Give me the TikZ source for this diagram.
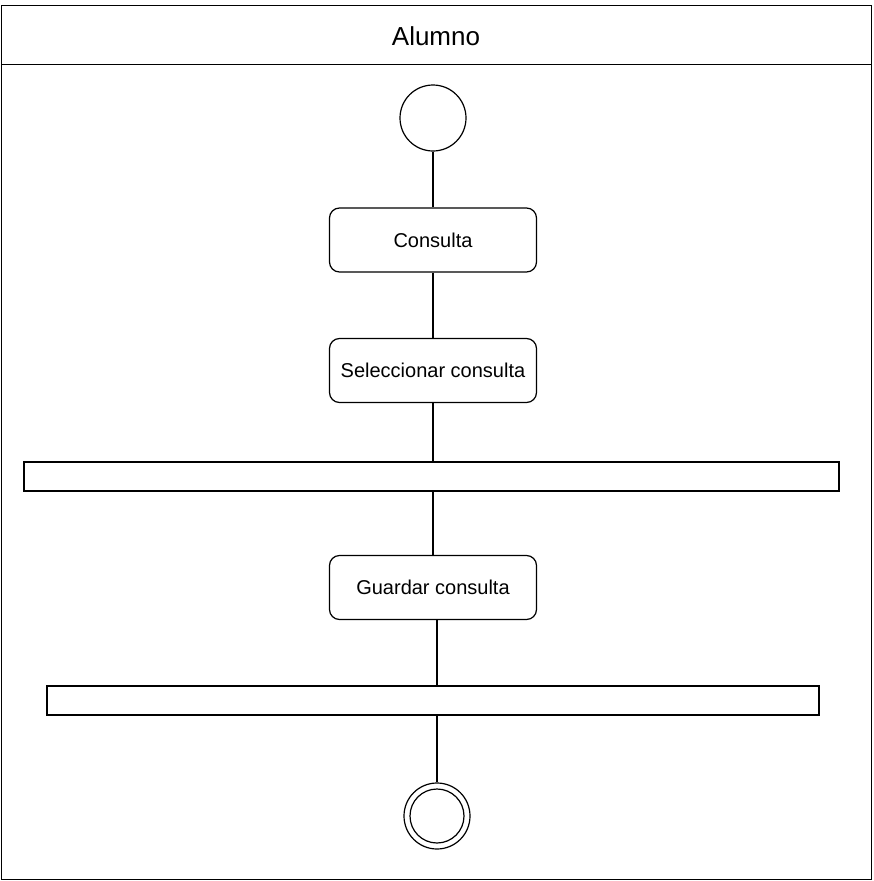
\documentclass[tikz,border=0pt]{standalone}
\usepackage{fontspec}
\setmainfont{Liberation Sans}
\begin{document}
\begin{tikzpicture}[x=1pt,y=-1pt,
  line width=1.2pt,
  lane/.style={draw, inner sep=0pt, anchor=north west},
  action/.style={draw, rounded corners=10pt, minimum width=207pt, minimum height=64pt,
    inner sep=0pt, font=\fontsize{20}{24}\selectfont},
  forkbar/.style={draw, minimum height=29pt, inner sep=0pt},
  startnode/.style={draw, circle, minimum size=66pt, inner sep=0pt},
  endnode/.style={draw, circle, minimum size=66pt, inner sep=0pt},
  flow/.style={draw, line width=1.1pt}]
\useasboundingbox (0,0) rectangle (873,881);

% swimlane with its header
\node[lane, minimum width=870pt, minimum height=59pt] (header) at (1,5) {};
\node[lane, minimum width=870pt, minimum height=815pt] (body) at (1,64) {};
\node[font=\fontsize{26}{30}\selectfont] (title) at (436,36) {Alumno};

% activity nodes
\node[startnode] (init) at (433,118) {};
\node[action] (consulta) at (433,240) {Consulta};
\node[action] (selec) at (433,370.5) {Seleccionar consulta};
\node[forkbar, minimum width=815pt] (bar1) at (431.5,476.5) {};
\node[action] (guardar) at (433,587.5) {Guardar consulta};
\node[forkbar, minimum width=772pt] (bar2) at (433,700.5) {};
\node[endnode] (final) at (437,816) {};
\draw (final.center) circle[radius=27];

% control flow
\draw[flow] (init.south) -- (consulta.north);
\draw[flow] (consulta.south) -- (selec.north);
\draw[flow] (selec.south) -- (selec.south |- bar1.north);
\draw[flow] (guardar.north |- bar1.south) -- (guardar.north);
\draw[flow] (guardar.south -| final.north) -- (bar2.north -| final.north);
\draw[flow] (bar2.south -| final.north) -- (final.north);
\end{tikzpicture}
\end{document}
